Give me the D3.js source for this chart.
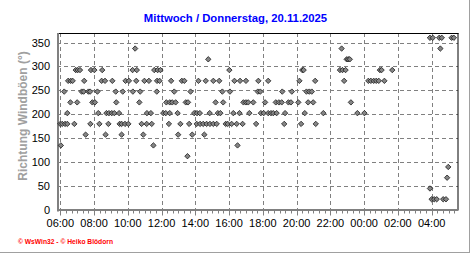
<!DOCTYPE html>
<html>
<head>
<meta charset="utf-8">
<script src="https://cdn.jsdelivr.net/npm/d3@7/dist/d3.min.js"></script>
<style>
  html, body { margin: 0; padding: 0; background: #fff; }
  svg { display: block; }
  text { font-family: "Liberation Sans", Arial, sans-serif; }
</style>
</head>
<body>
<svg id="chart" width="472" height="255"></svg>
<script>
// ---- data ----
const titleText = "Mittwoch / Donnerstag, 20.11.2025";
const yAxisTitle = "Richtung Windböen  (°)";
const footerText = "© WsWin32 - © Heiko Blödorn";
const xTickLabels = ["06:00","08:00","10:00","12:00","14:00","16:00","18:00","20:00","22:00","00:00","02:00","04:00"];
const yTickValues = [0, 50, 100, 150, 200, 250, 300, 350];

const times = [
 "06:00","06:02","06:07","06:14","06:17","06:25","06:25","06:28","06:36","06:37","06:44","06:50","06:55","07:00","07:02","07:10",
 "07:16","07:23","07:25","07:30","07:40","07:46","07:47","07:49","07:54","08:01","08:03","08:12","08:15","08:19","08:27","08:29",
 "08:39","08:41","08:44","08:51","08:53","09:03","09:05","09:12","09:17","09:19","09:29","09:31","09:38","09:38","09:42","09:50",
 "09:52","10:02","10:04","10:17","10:18","10:26","10:30","10:32","10:41","10:44","10:49","10:55","10:59","11:07","11:08","11:15",
 "11:22","11:25","11:31","11:34","11:43","11:44","11:46","11:53","11:56","12:06","12:15","12:17","12:26","12:29","12:29","12:34",
 "12:38","12:45","12:50","12:57","12:59","13:07","13:12","13:21","13:26","13:32","13:34","13:38","13:43","13:49","13:56","14:05",
 "14:06","14:11","14:16","14:17","14:28","14:32","14:37","14:40","14:46","14:51","14:52","15:04","15:04","15:12","15:16","15:20",
 "15:25","15:29","15:36","15:39","15:48","15:55","16:01","16:03","16:09","16:15","16:19","16:27","16:30","16:37","16:39","16:48",
 "16:51","17:00","17:00","17:08","17:12","17:26","17:36","17:42","17:44","17:51","17:53","18:03","18:08","18:19","18:19","18:29",
 "18:37","18:46","18:49","18:57","19:07","19:09","19:16","19:19","19:31","19:40","19:43","20:06","20:10","20:16","20:20","20:25",
 "20:29","20:35","20:41","20:45","20:54","20:59","21:06","21:08","21:35","22:34","22:40","22:43","22:49","22:54","22:58","23:03",
 "23:09","23:13","23:36","00:01","00:15","00:24","00:34","00:43","00:52","00:56","01:02","01:12","01:40","03:54","03:54","04:00",
 "04:04","04:09","04:18","04:27","04:31","04:36","04:41","04:51","04:55","04:59","05:11","05:19"
];
const directions = [
 180,135,180,247.5,180,180,202.5,270,225,270,270,180,292.5,225,292.5,292.5,
 247.5,247.5,270,157.5,247.5,247.5,180,292.5,225,292.5,225,247.5,202.5,180,270,292.5,
 270,157.5,202.5,180,202.5,202.5,270,202.5,247.5,225,202.5,180,180,157.5,247.5,180,
 270,180,270,292.5,247.5,337.5,270,292.5,225,247.5,180,157.5,270,180,202.5,270,
 202.5,180,135,292.5,247.5,270,292.5,270,292.5,202.5,202.5,225,180,225,202.5,270,
 225,247.5,225,202.5,157.5,180,270,270,225,112.5,225,180,247.5,157.5,202.5,180,
 202.5,270,202.5,180,180,157.5,270,180,315,202.5,180,270,180,225,180,202.5,
 270,202.5,247.5,225,180,180,292.5,247.5,180,202.5,270,180,135,202.5,270,180,
 225,270,225,225,202.5,225,180,247.5,270,247.5,202.5,202.5,225,202.5,270,202.5,
 202.5,225,202.5,225,225,247.5,180,202.5,225,225,247.5,225,270,180,292.5,292.5,
 202.5,247.5,225,247.5,247.5,225,270,180,202.5,292.5,337.5,292.5,270,292.5,315,315,
 315,225,202.5,202.5,270,270,270,270,270,292.5,292.5,270,292.5,360,45,22.5,
 360,22.5,22.5,360,337.5,360,22.5,22.5,67.5,90,360,360
];

// ---- build ----
function toDate(t) {
  const [h, m] = t.split(":").map(Number);
  const day = h < 6 ? 20 : 19;
  return new Date(Date.UTC(2025, 10, day, h, m));
}
const points = times.map((t, i) => ({ t: toDate(t), v: directions[i] }));

const svg = d3.select("#chart");
const L = 57, R = 458, T = 33, B = 210;

const x = d3.scaleUtc()
  .domain([new Date(Date.UTC(2025, 10, 19, 5, 48, 18)), new Date(Date.UTC(2025, 10, 20, 5, 33, 40))])
  .range([L, R]);
const y = d3.scaleLinear().domain([0, 370]).range([B, T]);

const majorTicks = d3.utcHour.every(2).range(new Date(Date.UTC(2025,10,19,6)), new Date(Date.UTC(2025,10,20,4,1)));
const minorTicks = d3.utcMinute.every(20).range(x.domain()[0], x.domain()[1]);

// frame
svg.append("line").attr("x1", 469.5).attr("x2", 469.5).attr("y1", 0).attr("y2", 253)
  .attr("stroke", "#a0a0a0").attr("stroke-width", 1);
svg.append("line").attr("x1", 0).attr("x2", 470).attr("y1", 252.5).attr("y2", 252.5)
  .attr("stroke", "#a0a0a0").attr("stroke-width", 1);

// grid
const grid = svg.append("g").attr("stroke", "#808080").attr("stroke-width", 1).attr("stroke-dasharray", "4,3");
grid.selectAll("line.v").data(majorTicks).join("line")
  .attr("x1", d => Math.round(x(d)) + 0.5).attr("x2", d => Math.round(x(d)) + 0.5)
  .attr("y1", T).attr("y2", B);
grid.selectAll("line.h").data(yTickValues.filter(v => v > 0)).join("line")
  .attr("x1", L).attr("x2", R)
  .attr("y1", d => Math.round(y(d)) + 0.5).attr("y2", d => Math.round(y(d)) + 0.5);

// top / right border
svg.append("line").attr("x1", L).attr("x2", R + 0.5).attr("y1", T + 0.5).attr("y2", T + 0.5).attr("stroke", "#000");
svg.append("line").attr("x1", R).attr("x2", R).attr("y1", T).attr("y2", B).attr("stroke", "#000");

// x ticks
svg.append("g").attr("stroke", "#808080").selectAll("line").data(minorTicks).join("line")
  .attr("x1", d => Math.round(x(d)) + 0.5).attr("x2", d => Math.round(x(d)) + 0.5)
  .attr("y1", B).attr("y2", B + 3.5);
svg.append("g").attr("stroke", "#808080").selectAll("line").data(majorTicks).join("line")
  .attr("x1", d => Math.round(x(d)) + 0.5).attr("x2", d => Math.round(x(d)) + 0.5)
  .attr("y1", B).attr("y2", B + 5.5);

// axis lines
svg.append("line").attr("x1", L + 1).attr("x2", L + 1).attr("y1", T).attr("y2", B + 1.5)
  .attr("stroke", "#808080").attr("stroke-width", 2);
svg.append("line").attr("x1", L).attr("x2", R + 0.5).attr("y1", B).attr("y2", B)
  .attr("stroke", "#808080").attr("stroke-width", 2);

// x labels
svg.append("g").selectAll("text").data(majorTicks).join("text")
  .attr("x", d => x(d)).attr("y", 226.5)
  .attr("text-anchor", "middle").attr("font-size", "11px").attr("fill", "#000")
  .text((d, i) => xTickLabels[i]);

// y labels
svg.append("g").selectAll("text").data(yTickValues).join("text")
  .attr("x", 50).attr("y", d => y(d) + 4)
  .attr("text-anchor", "end").attr("font-size", "11px").attr("fill", "#000")
  .text(d => d);

// points
svg.append("g").selectAll("path").data(points).join("path")
  .attr("transform", d => `translate(${x(d.t)},${y(d.v)})`)
  .attr("d", "M0,-2.7L2.7,0L0,2.7L-2.7,0Z")
  .attr("fill", "#858585").attr("stroke", "#1a1a1a").attr("stroke-width", 0.8);

// title
svg.append("text").attr("x", 235.5).attr("y", 22.3).attr("text-anchor", "middle")
  .attr("font-size", "11.3px").attr("font-weight", "bold").attr("fill", "#0000ff")
  .text(titleText);

// y axis title
svg.append("text").attr("transform", "translate(26.5,116) rotate(-90)")
  .attr("text-anchor", "middle").attr("font-size", "12px").attr("font-weight", "bold")
  .attr("fill", "#a0a0a0").text(yAxisTitle);

// footer
svg.append("text").attr("x", 18).attr("y", 243.5).attr("font-size", "7.5px").attr("font-weight", "bold")
  .attr("fill", "#ff0000").attr("textLength", 95).attr("lengthAdjust", "spacingAndGlyphs")
  .text(footerText);
</script>
</body>
</html>
